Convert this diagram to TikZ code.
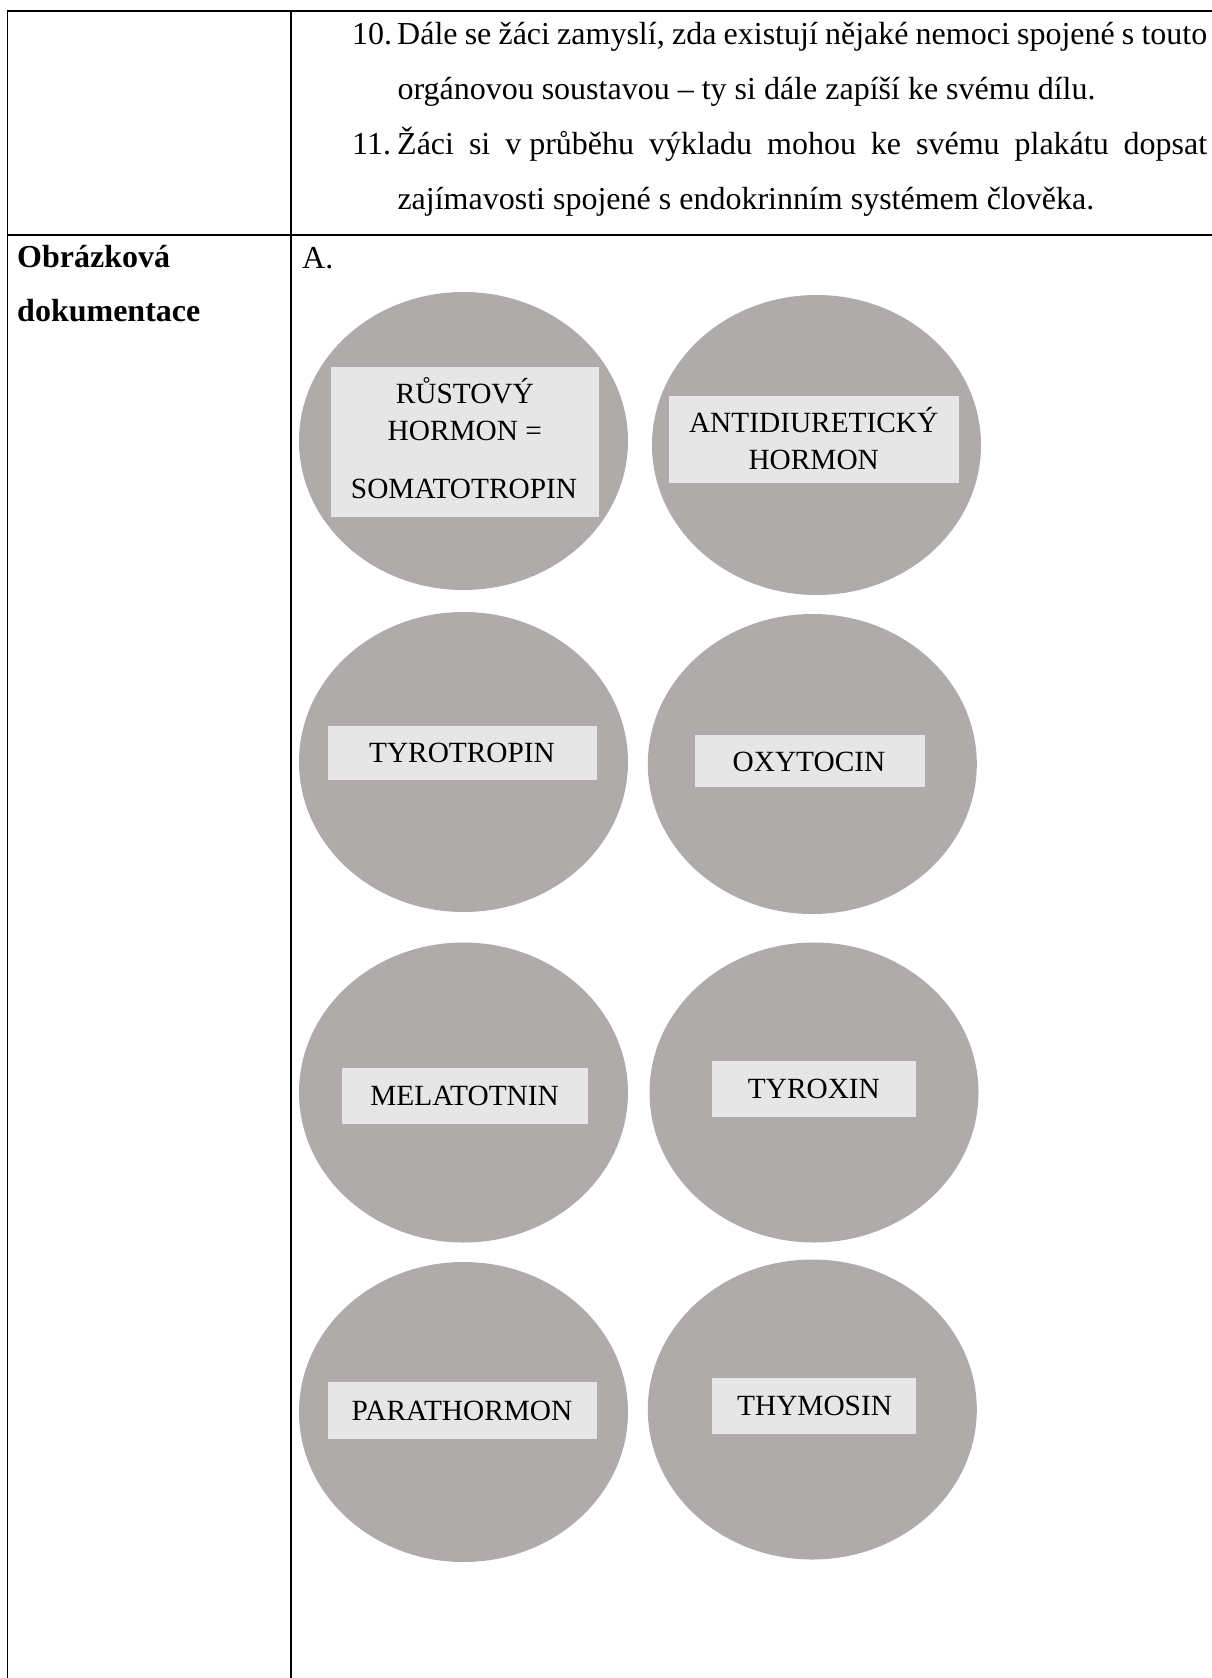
\documentclass[tikz,border=0pt]{standalone}
\usepackage{fontspec}
\setmainfont{Liberation Serif}
\usetikzlibrary{shapes.geometric}
\definecolor{circfill}{RGB}{175,171,170}
\definecolor{boxfill}{RGB}{230,230,230}
\begin{document}
\begin{tikzpicture}[x=0.375pt,y=-0.375pt,
  tbl/.style={line width=0.6pt, draw=black},
  txt/.style={anchor=base west, inner sep=0pt, font=\fontsize{12}{14}\selectfont},
  boldtxt/.style={anchor=base west, inner sep=0pt, font=\fontsize{12}{14}\selectfont\bfseries},
  disc/.style 2 args={ellipse, fill=circfill, draw=none, inner sep=0pt,
     minimum width=#1*0.375pt, minimum height=#2*0.375pt},
  lb/.style 2 args={rectangle, fill=boxfill, draw=none, inner sep=0pt,
     minimum width=#1*0.375pt, minimum height=#2*0.375pt},
  lt/.style={anchor=base, inner sep=0pt, font=\fontsize{11}{13}\selectfont}]
\useasboundingbox (0,0) rectangle (1212,1678);
% table lines
\draw[tbl] (7.3,11) -- (1212,11);
\draw[tbl] (7.3,235) -- (1212,235);
\draw[tbl] (7.3,11) -- (7.3,1678);
\draw[tbl] (291,11) -- (291,1678);
% top cell text
\node[txt] (n10) at (351.7,44.3) {10.};
\node[txt] (l1) at (396.7,44.3) {\makebox[303.75pt][s]{Dále se žáci zamyslí, zda existují nějaké nemoci spojené s touto}};
\node[txt] (l2) at (397,99) {orgánovou soustavou – ty si dále zapíší ke svému dílu.};
\node[txt] (n11) at (351.7,154.3) {11.};
\node[txt] (l3) at (396.7,154.3) {\makebox[303.75pt][s]{Žáci si v\hspace{0.25em}průběhu výkladu mohou ke svému plakátu dopsat}};
\node[txt] (l4) at (397,209.3) {zajímavosti spojené s endokrinním systémem člověka.};
% left cell
\node[boldtxt] (h1) at (16.7,267.3) {Obrázková};
\node[boldtxt] (h2) at (16.7,321.7) {dokumentace};
\node[txt] (A) at (301.7,268) {A.};
% discs
\node[disc={329}{298}] (c1) at (463.5,441) {};
\node[disc={329}{300}] (c2) at (816.5,445) {};
\node[disc={329}{300}] (c3) at (463.5,762) {};
\node[disc={329}{300}] (c4) at (812.3,764) {};
\node[disc={329}{300}] (c5) at (463.5,1092.5) {};
\node[disc={329}{300}] (c6) at (814,1092.5) {};
\node[disc={329}{300}] (c7) at (463.5,1412) {};
\node[disc={329}{300}] (c8) at (812.3,1409.5) {};
% label boxes
\node[lb={268.5}{150}] (b1) at (464.75,442) {};
\node[lb={290}{87}] (b2) at (814,439.5) {};
\node[lb={268.6}{54}] (b3) at (462.7,753) {};
\node[lb={230.3}{52}] (b4) at (809.65,761) {};
\node[lb={246.4}{56.3}] (b5) at (465,1095.85) {};
\node[lb={203.6}{56.3}] (b6) at (814.1,1089.15) {};
\node[lb={268.6}{56.7}] (b7) at (462.7,1410.65) {};
\node[lb={203.6}{56.6}] (b8) at (814.1,1406) {};
% label texts
\node[lt] (t1a) at (464.8,403.3) {RŮSTOVÝ};
\node[lt] (t1b) at (464.8,440) {HORMON =};
\node[lt] (t1c) at (464,498.3) {SOMATOTROPIN};
\node[lt] (t2a) at (813.7,432.7) {ANTIDIURETICKÝ};
\node[lt] (t2b) at (813.7,469) {HORMON};
\node[lt] (t3) at (462,762.7) {TYROTROPIN};
\node[lt] (t4) at (809,771.7) {OXYTOCIN};
\node[lt] (t5) at (464.6,1105) {MELATOTNIN};
\node[lt] (t6) at (813.9,1098.3) {TYROXIN};
\node[lt] (t7) at (462,1420) {PARATHORMON};
\node[lt] (t8) at (814.6,1415) {THYMOSIN};
\end{tikzpicture}
\end{document}
